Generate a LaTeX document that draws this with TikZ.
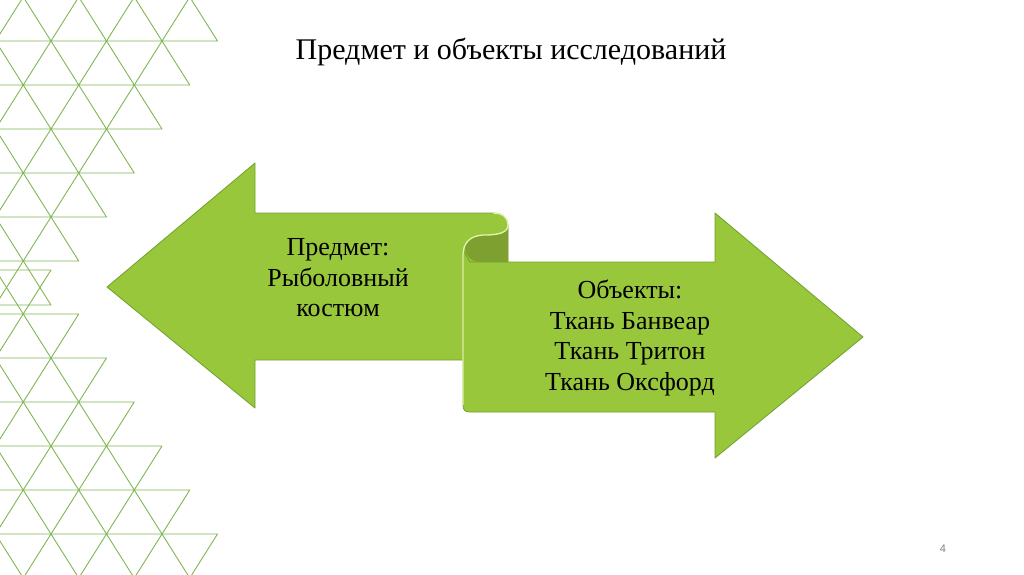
\documentclass[tikz,border=0pt]{standalone}
\usepackage{fontspec}
\setmainfont{Liberation Serif}
\setsansfont{Liberation Sans}
\usetikzlibrary{positioning,calc}
\definecolor{leafgreen}{RGB}{153,199,60}
\definecolor{leafedge}{RGB}{112,160,45}
\definecolor{folddark}{RGB}{125,160,48}
\definecolor{foldlight}{RGB}{226,245,175}
\definecolor{gridgreen}{RGB}{128,182,84}

\begin{document}
\begin{tikzpicture}[x=1pt, y=-1pt, tri/.style={draw=gridgreen, line width=0.9pt, line join=round}, arrowbody/.style={fill=leafgreen, draw=leafedge, line width=0.8pt, line join=round}, boxtext/.style={align=center, font=\fontsize{26}{30.5}\selectfont, inner sep=0pt}]

\useasboundingbox (0,0) rectangle (1024,574);

% triangle pattern on the left
\begin{scope}
\clip (0,0) rectangle (1024,574);
\foreach \j in {0,...,6}{
  \foreach \k in {0,...,5}{
    \pgfmathsetmacro{\xr}{217.5-27.75*\j-55.5*\k}
    \pgfmathsetmacro{\yb}{41+44*\j}
    \draw[tri] (\xr,\yb) -- ++(-55.5,0) -- ++(27.75,-44) -- cycle;
    \draw[tri] (\xr,575-\yb) -- ++(-55.5,0) -- ++(27.75,44) -- cycle;
  }
}
\end{scope}

% left arrow
\path[arrowbody] (107,287) -- (255,163) -- (255,213) -- (493,213) .. controls (503,213) and (508,218) .. (508,225) -- (508,262) -- (463,262) -- (463,360) -- (255,360) -- (255,408) -- cycle;

% right arrow
\path[arrowbody] (463,250) -- (463,405) .. controls (463,410) and (465,412) .. (470,412) -- (715,412) -- (715,458) -- (863,337) -- (715,213) -- (715,262) -- (470,262) -- cycle;

% fold of the scroll
\fill[folddark] (508,225) .. controls (508,232) and (500,235) .. (485,235) .. controls (472,235) and (464,242) .. (465,249) .. controls (466,257) and (472,262) .. (481,262) -- (508,262) -- cycle;
\draw[foldlight, line width=1.3pt] (493,213) .. controls (503,213) and (508,218) .. (508,225) .. controls (508,232) and (500,235) .. (485,235) .. controls (470,235) and (463,243) .. (463,255) -- (463,405);

\node[font=\fontsize{30}{36}\selectfont] (title) at (511,52) {Предмет и объекты исследований};
\node[boxtext] (subject) at (338,278) {Предмет:\\Рыболовный\\костюм};
\node[boxtext] (objects) at (630,338) {Объекты:\\Ткань Банвеар\\Ткань Тритон\\Ткань Оксфорд};
\node[font=\sffamily\fontsize{11}{13}\selectfont, text=gray] (page) at (943,549) {4};
\end{tikzpicture}
\end{document}
